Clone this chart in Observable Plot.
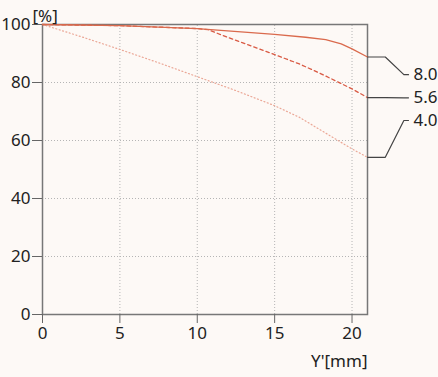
<!DOCTYPE html>
<html>
<head>
<meta charset="utf-8">
<script src="https://cdn.jsdelivr.net/npm/d3@7"></script>
<script src="https://cdn.jsdelivr.net/npm/@observablehq/plot@0.6"></script>
<style>
  html, body { margin: 0; padding: 0; background: #fdf9f6; }
  #chart { width: 438px; height: 377px; }
</style>
</head>
<body>
<div id="chart"></div>
<script>
// ---- data ----
const f80x = [0, 5, 10, 15, 17, 18.3, 19.3, 20, 21];
const f80y = [100, 99.6, 98.6, 96.6, 95.6, 94.8, 93.3, 91.6, 88.8];
const f56x = [0, 5, 10, 10.7, 12, 14, 16.6, 18, 20, 21];
const f56y = [100, 99.6, 98.6, 98.2, 95.5, 91.6, 86.4, 83, 77.8, 74.8];
const f40x = [0, 2.5, 5, 7.5, 10, 12.5, 15, 16.6, 18, 20, 21];
const f40y = [100, 95.8, 91.4, 86.8, 82, 77.2, 72, 68, 63.5, 57.1, 54.2];
const seriesNames = ["8.0", "5.6", "4.0"];
const labelValues = [82.7, 74.7, 66.9];   // vertical position of the end labels
const xTicks = [0, 5, 10, 15, 20];
const yTicks = [0, 20, 40, 60, 80, 100];
const xGrid = [5, 10, 15, 20];
const yGrid = [20, 40, 60, 80];

const toRows = (xs, ys) => xs.map((x, i) => ({x, y: ys[i]}));
const s80 = toRows(f80x, f80y);
const s56 = toRows(f56x, f56y);
const s40 = toRows(f40x, f40y);
const ends = [f80y[f80y.length - 1], f56y[f56y.length - 1], f40y[f40y.length - 1]];

// leader lines (elbow positions in x units beyond the frame)
const leaderX = [21, 22.15, 23.35, 23.65];
const leaders = seriesNames.map((name, i) => [
  {x: leaderX[0], y: ends[i]},
  {x: leaderX[1], y: ends[i]},
  {x: leaderX[2], y: labelValues[i]},
  {x: leaderX[3], y: labelValues[i]}
]);
const labels = seriesNames.map((name, i) => ({x: leaderX[3], y: labelValues[i], name}));

const chart = Plot.plot({
  width: 438,
  height: 377,
  marginLeft: 42,
  marginRight: 71,
  marginTop: 24,
  marginBottom: 63,
  style: {background: "#fdf9f6", fontFamily: "Noto Sans", fontSize: "17px", color: "#222", overflow: "visible"},
  x: {domain: [0, 21], ticks: xTicks, label: null},
  y: {domain: [0, 100], ticks: yTicks, label: null},
  marks: [
    Plot.ruleX(xGrid, {y1: 0, y2: 100, stroke: "#b5b5b5", strokeDasharray: "1,2"}),
    Plot.ruleY(yGrid, {x1: 0, x2: 21, stroke: "#b5b5b5", strokeDasharray: "1,2"}),
    Plot.frame({stroke: "#777", strokeWidth: 1.5}),
    Plot.axisX({ticks: xTicks, tickSize: 9, tickPadding: 3, stroke: "#666", label: null, fontSize: 17}),
    Plot.axisY({ticks: yTicks, tickSize: 10, tickPadding: 2, stroke: "#666", label: null, fontSize: 17}),
    Plot.line(s40, {x: "x", y: "y", stroke: "#eba796", strokeWidth: 1.2, strokeDasharray: "1,2.5"}),
    Plot.line(s56, {x: "x", y: "y", stroke: "#d95a44", strokeWidth: 1.3, strokeDasharray: "3.5,3"}),
    Plot.line(s80, {x: "x", y: "y", stroke: "#da6a4d", strokeWidth: 1.3}),
    ...leaders.map(l => Plot.line(l, {x: "x", y: "y", stroke: "#444", strokeWidth: 1.2})),
    Plot.text(labels, {x: "x", y: "y", text: "name", textAnchor: "start", dx: 5, fontSize: 17, fill: "#222"}),
    Plot.text(["[%]"], {frameAnchor: "top-left", textAnchor: "start", dx: -10, dy: -15, fontSize: 17, fill: "#222"}),
    Plot.text(["Y'[mm]"], {frameAnchor: "bottom-right", textAnchor: "end", dx: 0, dy: 52, fontSize: 17, fill: "#222"})
  ]
});
document.getElementById("chart").appendChild(chart);
</script>
</body>
</html>
